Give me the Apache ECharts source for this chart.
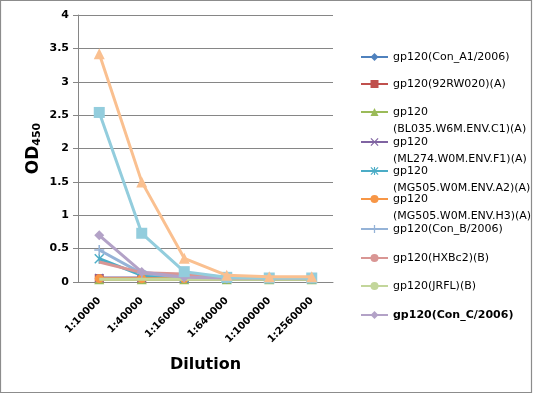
<!DOCTYPE html>
<html><head><meta charset="utf-8">
<script src="https://cdn.jsdelivr.net/npm/echarts@6/dist/echarts.min.js"></script>
<style>html,body{margin:0;padding:0;background:#fff}#c{width:533px;height:394px}</style>
</head><body><div id="c"></div>
<script>
const categories = ['1:10000','1:40000','1:160000','1:640000','1:1000000','1:2560000'];
const yTicks = [0,0.5,1,1.5,2,2.5,3,3.5,4];
const names = ['gp120(Con_A1/2006)','gp120(92RW020)(A)','gp120\n(BL035.W6M.ENV.C1)(A)','gp120\n(ML274.W0M.ENV.F1)(A)','gp120\n(MG505.W0M.ENV.A2)(A)','gp120\n(MG505.W0M.ENV.H3)(A)','gp120(Con_B/2006)','gp120(HXBc2)(B)','gp120(JRFL)(B)','gp120(Con_C/2006)','gp120(series 11)','gp120(series 12)'];
const conA1 = [0.05,0.05,0.05,0.05,0.05,0.05];
const rw020 = [0.05,0.05,0.05,0.05,0.05,0.05];
const bl035 = [0.04,0.04,0.04,0.04,0.04,0.04];
const ml274 = [0.06,0.06,0.05,0.05,0.05,0.05];
const mg505a2 = [0.35,0.10,0.06,0.05,0.05,0.05];
const mg505h3 = [0.05,0.05,0.05,0.05,0.05,0.05];
const conB = [0.48,0.13,0.07,0.06,0.06,0.06];
const hxbc2 = [0.30,0.14,0.12,0.07,0.06,0.06];
const jrfl = [0.04,0.04,0.04,0.04,0.04,0.04];
const conC = [0.70,0.15,0.07,0.06,0.06,0.06];
const s11 = [2.54,0.73,0.155,0.07,0.06,0.06];
const s12 = [3.42,1.50,0.355,0.10,0.08,0.08];
const values = [conA1,rw020,bl035,ml274,mg505a2,mg505h3,conB,hxbc2,jrfl,conC,s11,s12];
const colors = ['#4F81BD','#C0504D','#9BBB59','#8064A2','#4BACC6','#F79646','#95B3D7','#D99694','#C3D69B','#B3A2C7','#93CDDD','#FAC090'];
const X = 'path://M1,0 L5,4 L9,0 L10,1 L6,5 L10,9 L9,10 L5,6 L1,10 L0,9 L4,5 L0,1 Z';
const PLUS = 'path://M4.2,0 H5.8 V4.2 H10 V5.8 H5.8 V10 H4.2 V5.8 H0 V4.2 H4.2 Z';
const AST = 'path://M1,0 L5,4 L9,0 L10,1 L6,5 L10,9 L9,10 L5,6 L1,10 L0,9 L4,5 L0,1 Z M4.3,0 H5.7 V10 H4.3 Z';
const symbols = ['diamond','rect','triangle',X,AST,'circle',PLUS,'none','none','diamond','rect','triangle'];
const sizes = [9,9,10,9,10,9,10,0,0,10,11,11];
const legendTops = [57,84,112,142,171,199,229,258,286,315];
const FONT = 'DejaVu Sans';
const LH = 17;

const series = values.map((v,i)=>({
  name: names[i], type:'line', data:v, symbol:symbols[i], symbolSize:sizes[i],
  showSymbol: symbols[i]!=='none',
  lineStyle:{width:3,color:colors[i]}, itemStyle:{color:colors[i]},
  z: 2+i, animation:false
}));

const legends = legendTops.map((t,i)=>{
  const multi = names[i].indexOf('\n')>=0;
  return {
    orient:'vertical', left:360, top: t - (multi?1.5*LH:LH/2), padding:0,
    itemWidth:27, itemHeight:10, itemGap:0,
    data:[names[i]],
    formatter: multi ? (n)=>' \n'+n : (n)=>n,
    textStyle:{fontFamily:FONT,fontSize:11,color:'#000',lineHeight:LH,fontWeight: i===9?'bold':'normal'},
    selectedMode:false
  };
});

const chart = echarts.init(document.getElementById('c'),null,{renderer:'canvas'});
chart.setOption({
  animation:false,
  backgroundColor:'#fff',
  graphic:[{type:'rect',shape:{x:0.5,y:0.5,width:531,height:392},style:{fill:'none',stroke:'#8c8c8c',lineWidth:1.2},silent:true}],
  grid:{left:78,top:15,width:255,height:267,containLabel:false},
  legend: legends,
  xAxis:{type:'category',data:categories,boundaryGap:true,
    name:'Dilution',nameLocation:'middle',nameGap:75,
    nameTextStyle:{fontFamily:FONT,fontSize:16,fontWeight:'bold',color:'#000'},
    axisLine:{lineStyle:{color:'#868686',width:1}},axisTick:{show:false},
    axisLabel:{rotate:45,interval:0,margin:17,fontFamily:FONT,fontSize:10,fontWeight:'bold',color:'#000'}},
  yAxis:{type:'value',min:0,max:4,interval:0.5,
    name:'{a|OD}{b|450}',nameLocation:'middle',nameGap:35,nameRotate:90,
    nameTextStyle:{rich:{a:{fontFamily:FONT,fontSize:17,fontWeight:'bold',color:'#000'},b:{fontFamily:FONT,fontSize:11,fontWeight:'bold',color:'#000',padding:[8,0,0,0]}}},
    axisLine:{show:true,lineStyle:{color:'#868686',width:1}},
    axisTick:{show:true,inside:false,length:5,lineStyle:{color:'#868686'}},
    splitLine:{lineStyle:{color:'#868686',width:1}},
    axisLabel:{margin:9,fontFamily:FONT,fontSize:11,fontWeight:'bold',color:'#000',
      formatter:(v)=>String(yTicks.find(t=>Math.abs(t-v)<1e-9) ?? v)}},
  series: series
});
</script></body></html>
